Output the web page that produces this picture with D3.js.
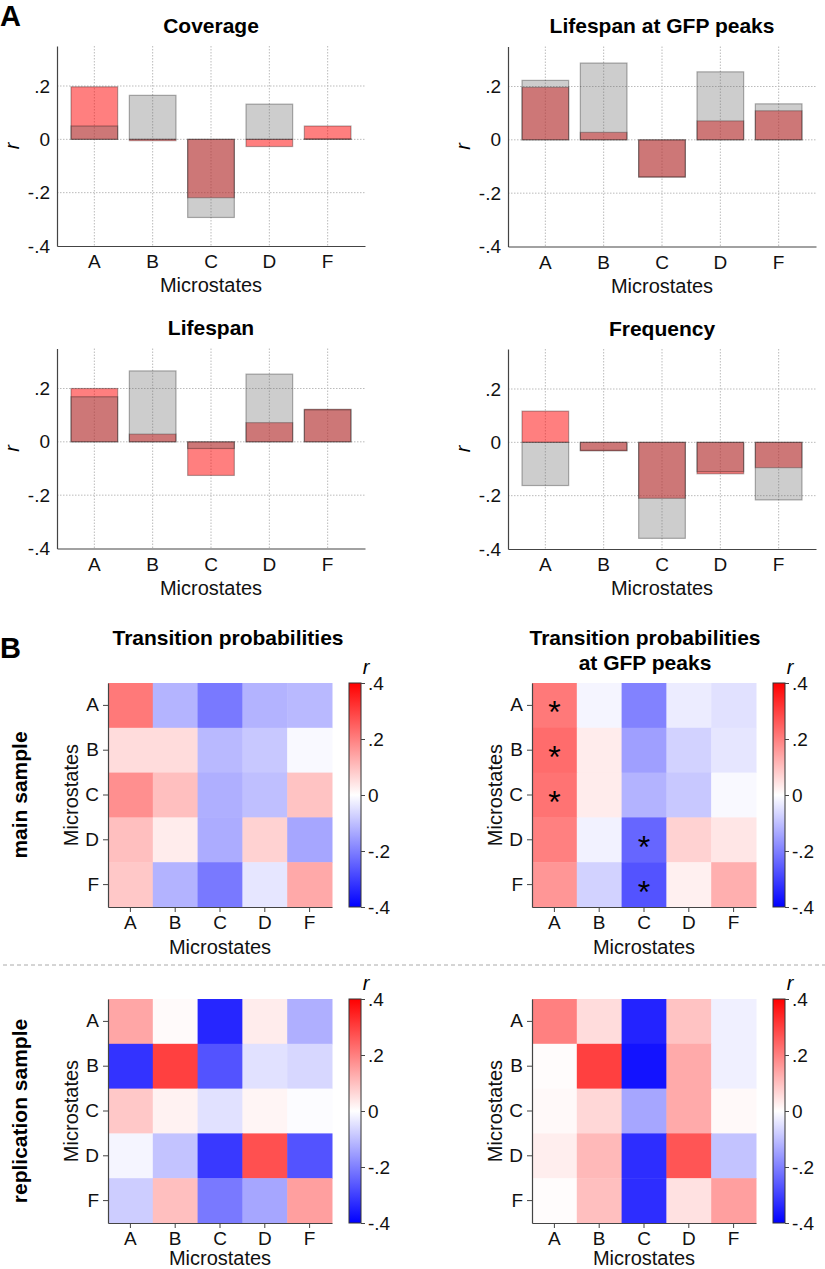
<!DOCTYPE html>
<html>
<head>
<meta charset="utf-8">
<script src="https://cdn.jsdelivr.net/npm/d3@7"></script>
<style>
  body { margin: 0; background: #fff; }
  svg  { display: block; font-family: Arial, "Liberation Sans", sans-serif; }
</style>
</head>
<body>
<div id="figure"></div>
<script>
let states = ["A", "B", "C", "D", "F"];

// bar panels: red and gray series per measure
let coverageRed      = [ 0.197, -0.005, -0.219, -0.027,  0.050];
let coverageGray     = [ 0.050,  0.165, -0.293,  0.132,  0.002];
let gfpLifespanRed   = [ 0.197,  0.028, -0.140,  0.071,  0.109];
let gfpLifespanGray  = [ 0.223,  0.288, -0.139,  0.255,  0.135];
let lifespanRed      = [ 0.200,  0.029, -0.126,  0.072,  0.122];
let lifespanGray     = [ 0.169,  0.266, -0.025,  0.254,  0.120];
let frequencyRed     = [ 0.117, -0.032, -0.210, -0.118, -0.095];
let frequencyGray    = [-0.162, -0.030, -0.360, -0.110, -0.216];

let barTicks   = [-0.4, -0.2, 0, 0.2];
let colorTicks = [-0.4, -0.2, 0, 0.2, 0.4];

// heatmaps: rows = from state, columns = to state
let transMain = [
  [ 0.210, -0.118, -0.210, -0.120, -0.110],
  [ 0.055,  0.055, -0.110, -0.086, -0.010],
  [ 0.175,  0.100, -0.125, -0.100,  0.094],
  [ 0.100,  0.030, -0.130,  0.070, -0.140],
  [ 0.086, -0.120, -0.210, -0.040,  0.135]
];
let transGfpMain = [
  [ 0.210, -0.015, -0.196, -0.030, -0.047],
  [ 0.230,  0.030, -0.150, -0.070, -0.040],
  [ 0.220,  0.030, -0.120, -0.086, -0.010],
  [ 0.200, -0.020, -0.240,  0.070,  0.040],
  [ 0.165, -0.070, -0.270,  0.024,  0.125]
];
let transRepl = [
  [ 0.140,  0.008, -0.340,  0.030, -0.125],
  [-0.320,  0.300, -0.270, -0.047, -0.063],
  [ 0.086,  0.020, -0.047,  0.015, -0.005],
  [-0.015, -0.094, -0.310,  0.275, -0.270],
  [-0.078,  0.100, -0.210, -0.140,  0.150]
];
let transGfpRepl = [
  [ 0.200,  0.055, -0.345,  0.094, -0.024],
  [ 0.005,  0.300, -0.370,  0.133, -0.024],
  [ 0.010,  0.063, -0.140,  0.133,  0.010],
  [ 0.027,  0.110, -0.330,  0.267, -0.094],
  [ 0.005,  0.100, -0.330,  0.047,  0.150]
];
let gfpMainStars = [["A", "A"], ["B", "A"], ["C", "A"], ["D", "C"], ["F", "C"]];

let width  = 825,
    height = 1269;

let svg =
  d3.select("#figure")
    .append("svg")
      .attr("width", width)
      .attr("height", height);

function shortFormat(d) {
  if (d === 0) return "0";
  return String(d).replace("0.", ".");
}

function translate(x, y=0) {
  return "translate(" + x + "," + y + ")";
}

function styleAxis(axisG, size) {
  axisG.selectAll(".domain").attr("stroke", "#444").attr("stroke-width", 1.2);
  axisG.selectAll(".tick line").attr("stroke", "#444");
  axisG.selectAll("text")
    .attr("fill", "#111")
    .style("font-size", size + "px")
    .style("font-family", "Arial, 'Liberation Sans', sans-serif");
}

// ---------- A: bar panels ----------
let barWidth  = 308,
    barHeight = 200;

let x =
  d3.scaleBand()
    .domain(states)
    .range([0, barWidth])
    .paddingInner(0.2)
    .paddingOuter(0.24);

let y =
  d3.scaleLinear()
    .domain([-0.4, 0.35])
    .range([barHeight, 0]);

let barPanels = [
  {title: "Coverage",              red: coverageRed,    gray: coverageGray,    left: 57,  top: 46},
  {title: "Lifespan at GFP peaks", red: gfpLifespanRed, gray: gfpLifespanGray, left: 508, top: 46.5},
  {title: "Lifespan",              red: lifespanRed,    gray: lifespanGray,    left: 57,  top: 348.5},
  {title: "Frequency",             red: frequencyRed,   gray: frequencyGray,   left: 508, top: 349}
];

barPanels.forEach(function(p) {
  let g = svg.append("g").attr("transform", translate(p.left, p.top));

  g.selectAll(".hgrid")
      .data([-0.2, 0, 0.2])
    .enter().append("line")
      .attr("x1", 0)
      .attr("x2", barWidth)
      .attr("y1", function(d) { return y(d); })
      .attr("y2", function(d) { return y(d); })
      .attr("stroke", "#bbb")
      .attr("stroke-dasharray", "1.5,1.5");

  g.selectAll(".vgrid")
      .data(states)
    .enter().append("line")
      .attr("x1", function(d) { return x(d) + x.bandwidth() / 2; })
      .attr("x2", function(d) { return x(d) + x.bandwidth() / 2; })
      .attr("y1", 0)
      .attr("y2", barHeight)
      .attr("stroke", "#bbb")
      .attr("stroke-dasharray", "1.5,1.5");

  [{values: p.red, fill: "#ff0000", opacity: 0.5},
   {values: p.gray, fill: "#666666", opacity: 0.33}].forEach(function(s) {
    g.append("g")
      .selectAll("rect")
        .data(s.values)
      .enter().append("rect")
        .attr("x", function(d, i) { return x(states[i]); })
        .attr("y", function(d) { return y(Math.max(0, d)); })
        .attr("width", x.bandwidth())
        .attr("height", function(d) { return Math.abs(y(d) - y(0)); })
        .attr("fill", s.fill)
        .attr("fill-opacity", s.opacity)
        .attr("stroke", "#000")
        .attr("stroke-opacity", 0.3)
        .attr("stroke-width", 1.2);
  });

  let xAxis = g.append("g")
      .attr("transform", translate(0, barHeight))
      .call(d3.axisBottom(x).tickSize(0).tickSizeOuter(0).tickPadding(9));
  styleAxis(xAxis, 19);

  let yAxis = g.append("g")
      .call(d3.axisLeft(y).tickValues(barTicks).tickFormat(shortFormat)
              .tickSize(0).tickSizeOuter(0).tickPadding(7));
  styleAxis(yAxis, 19);

  g.append("text")
      .attr("x", barWidth / 2)
      .attr("y", -13.5)
      .attr("text-anchor", "middle")
      .style("font-size", "21px")
      .style("font-weight", "bold")
      .text(p.title);

  g.append("text")
      .attr("x", barWidth / 2)
      .attr("y", barHeight + 46)
      .attr("text-anchor", "middle")
      .style("font-size", "20px")
      .attr("fill", "#111")
      .text("Microstates");

  g.append("text")
      .attr("transform", translate(-38, barHeight / 2) + " rotate(-90)")
      .attr("text-anchor", "middle")
      .style("font-size", "20px")
      .style("font-style", "italic")
      .text("r");
});

// ---------- B: heatmaps ----------
let heatSize = 224;

let hx =
  d3.scaleBand()
    .domain(states)
    .range([0, heatSize]);

let color =
  d3.scaleLinear()
    .domain([-0.4, 0, 0.4])
    .range(["#0000ff", "#ffffff", "#ff0000"]);

let cb =
  d3.scaleLinear()
    .domain([-0.4, 0.4])
    .range([heatSize, 0]);

let gradient = svg.append("defs")
  .append("linearGradient")
    .attr("id", "bwr")
    .attr("x1", 0).attr("y1", 1)
    .attr("x2", 0).attr("y2", 0);

gradient.selectAll("stop")
    .data(color.domain())
  .enter().append("stop")
    .attr("offset", function(d) { return (d + 0.4) / 0.8; })
    .attr("stop-color", function(d) { return color(d); });

let heatPanels = [
  {values: transMain,    stars: [],           left: 108, top: 683, xlabelY: 47, titles: ["Transition probabilities"], titleX: 120},
  {values: transGfpMain, stars: gfpMainStars, left: 532, top: 683, xlabelY: 47, titles: ["Transition probabilities", "at GFP peaks"], titleX: 113},
  {values: transRepl,    stars: [],           left: 108, top: 999, xlabelY: 42, titles: []},
  {values: transGfpRepl, stars: [],           left: 532, top: 999, xlabelY: 42, titles: []}
];

heatPanels.forEach(function(p) {
  let g = svg.append("g").attr("transform", translate(p.left, p.top));

  let cells = [];
  p.values.forEach(function(row, i) {
    row.forEach(function(v, j) {
      cells.push({row: states[i], col: states[j], value: v});
    });
  });

  g.selectAll(".cell")
      .data(cells)
    .enter().append("rect")
      .attr("x", function(d) { return hx(d.col); })
      .attr("y", function(d) { return hx(d.row); })
      .attr("width", hx.bandwidth() + 0.5)
      .attr("height", hx.bandwidth() + 0.5)
      .attr("fill", function(d) { return color(d.value); });

  g.selectAll(".star")
      .data(p.stars)
    .enter().append("text")
      .attr("x", function(d) { return hx(d[1]) + hx.bandwidth() / 2; })
      .attr("y", function(d) { return hx(d[0]) + hx.bandwidth() / 2 + 18; })
      .attr("text-anchor", "middle")
      .style("font-size", "32px")
      .text("*");

  let xAxis = g.append("g")
      .attr("transform", translate(0, heatSize))
      .call(d3.axisBottom(hx).tickSize(5).tickSizeOuter(0).tickPadding(4));
  styleAxis(xAxis, 19);

  let yAxis = g.append("g")
      .call(d3.axisLeft(hx).tickSize(5).tickSizeOuter(0).tickPadding(4));
  styleAxis(yAxis, 19);

  g.append("text")
      .attr("x", heatSize / 2)
      .attr("y", heatSize + p.xlabelY)
      .attr("text-anchor", "middle")
      .attr("fill", "#111")
      .style("font-size", "20px")
      .text("Microstates");

  g.append("text")
      .attr("transform", translate(-30, heatSize / 2) + " rotate(-90)")
      .attr("text-anchor", "middle")
      .attr("fill", "#111")
      .style("font-size", "20px")
      .text("Microstates");

  // colorbar
  let cbg = g.append("g").attr("transform", translate(heatSize + 17, 0));

  cbg.append("rect")
      .attr("width", 12)
      .attr("height", heatSize)
      .attr("fill", "url(#bwr)")
      .attr("stroke", "#333")
      .attr("stroke-width", 1);

  let cbAxis = cbg.append("g")
      .attr("transform", translate(12, 0))
      .call(d3.axisRight(cb).tickValues(colorTicks).tickFormat(shortFormat)
              .tickSize(4).tickSizeOuter(0).tickPadding(3));
  styleAxis(cbAxis, 19);
  cbAxis.select(".domain").remove();

  cbg.append("text")
      .attr("x", 17)
      .attr("y", -9)
      .attr("text-anchor", "middle")
      .style("font-size", "20px")
      .style("font-style", "italic")
      .text("r");

  p.titles.forEach(function(t, i) {
    g.append("text")
        .attr("x", p.titleX)
        .attr("y", -38 + i * 24.5)
        .attr("text-anchor", "middle")
        .style("font-size", "21px")
        .style("font-weight", "bold")
        .text(t);
  });
});

// separator between samples
svg.append("line")
    .attr("x1", 3)
    .attr("x2", width)
    .attr("y1", 965)
    .attr("y2", 965)
    .attr("stroke", "#aaa")
    .attr("stroke-dasharray", "4,3");

// row labels
[{label: "main sample", y: 795}, {label: "replication sample", y: 1111}].forEach(function(r) {
  svg.append("text")
      .attr("transform", translate(27, r.y) + " rotate(-90)")
      .attr("text-anchor", "middle")
      .style("font-size", "21px")
      .style("font-weight", "bold")
      .text(r.label);
});

// panel letters
[{label: "A", y: 26}, {label: "B", y: 658}].forEach(function(l) {
  svg.append("text")
      .attr("x", 0)
      .attr("y", l.y)
      .style("font-size", "29px")
      .style("font-weight", "bold")
      .text(l.label);
});
</script>
</body>
</html>
